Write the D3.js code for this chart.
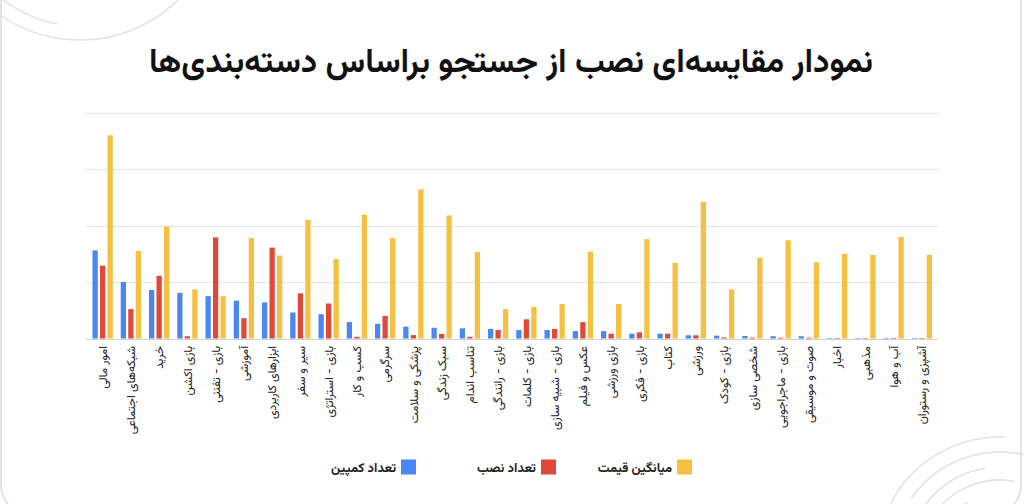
<!DOCTYPE html>
<html><head><meta charset="utf-8">
<script src="https://cdn.jsdelivr.net/npm/d3@7"></script>
<style>body{margin:0;background:#fff} svg{display:block}</style>
</head><body>
<svg id="c" width="1024" height="504"></svg>
<script>
const categories = ["امور مالی","شبکه‌های اجتماعی","خرید","بازی اکشن","بازی - تفننی","آموزشی","ابزارهای کاربردی","سیر و سفر","بازی - استراتژی","کسب و کار","سرگرمی","پزشکی و سلامت","سبک زندگی","تناسب اندام","بازی - رانندگی","بازی - کلمات","بازی - شبیه سازی","عکس و فیلم","بازی ورزشی","بازی - فکری","کتاب","ورزشی","بازی - کودک","شخصی سازی","بازی - ماجراجویی","صوت و موسیقی","اخبار","مذهبی","آب و هوا","آشپزی و رستوران"];
const seriesNames = ["تعداد کمپین","تعداد نصب","میانگین قیمت"];
const campaigns = [15.6,10.0,8.6,8.1,7.5,6.7,6.4,4.6,4.3,2.9,2.6,2.1,1.9,1.8,1.7,1.5,1.5,1.3,1.3,0.85,0.85,0.57,0.5,0.45,0.4,0.4,0.1,0.1,0.1,0.1];
const installs = [12.9,5.2,11.1,0.4,17.9,3.6,16.1,8.0,6.2,0.3,4.0,0.6,0.8,0.3,1.5,3.4,1.7,2.9,0.85,1.1,0.85,0.57,0.2,0.15,0.15,0.15,0.1,0.1,0.1,0.1];
const avgPrice = [36.0,15.5,19.8,8.7,7.5,17.8,14.7,21.0,14.1,21.9,17.8,26.4,21.8,15.3,5.2,5.6,6.1,15.4,6.1,17.6,13.4,24.2,8.7,14.3,17.4,13.5,15.0,14.8,18.0,14.8];
const yTicks = [0,10,20,30,40];
const colors = ["#4A87F2","#E0483A","#F6C142"];
const titleText = "نمودار مقایسه‌ای نصب از جستجو براساس دسته‌بندی‌ها";

const FONT = "Vazirmatn, 'Noto Sans Arabic', 'DejaVu Sans', sans-serif";
const svg = d3.select("#c").style("font-family", FONT);
const seriesData = [campaigns, installs, avgPrice];

// background card + decorative arcs
svg.append("rect").attr("x",1).attr("y",-30).attr("width",1020).attr("height",545).attr("rx",30)
  .attr("fill","#fff").attr("stroke","#e2e2e8").attr("stroke-width",2);
const deco = svg.append("g").attr("fill","none").attr("stroke","#e3e3e3").attr("stroke-width",1.6);
[[80,-100,140,0.55,2.75],[80,-100,126,1.75,2.6],[80,-100,112,0.35,0.9],[80,-100,98,0.2,0.6]].forEach(a=>{
  const p=d3.path(); p.arc(a[0],a[1],a[2],a[3],a[4]); deco.append("path").attr("d",p.toString());});
[[1000,560,123,3.55,4.75],[1000,560,108,3.75,5.0],[1000,560,93,3.3,4.55],[1000,560,80,3.6,4.9],[1000,560,66,3.3,4.2]].forEach(a=>{
  const p=d3.path(); p.arc(a[0],a[1],a[2],a[3],a[4]); deco.append("path").attr("d",p.toString());});

// title
svg.append("text").attr("x",511).attr("y",72).attr("text-anchor","middle")
  .attr("font-size",33).attr("font-weight","bold").attr("fill","#111").text(titleText);

// scales
const x0 = d3.scaleBand().domain(categories).range([88.5,936]);
const x1 = d3.scaleBand().domain(seriesNames).range([4, x0.bandwidth()-4]).paddingInner(0.3);
const y = d3.scaleLinear().domain([0,40]).range([338.5,112.7]);

// gridlines
svg.append("g").selectAll("line").data(yTicks).join("line")
  .attr("x1",86).attr("x2",938).attr("y1",d=>Math.round(y(d))+0.5).attr("y2",d=>Math.round(y(d))+0.5)
  .attr("stroke",d=>d===0?"#cfcfcf":"#e4e4e4").attr("stroke-width",1.2);

// bars
const groups = svg.append("g").selectAll("g").data(categories).join("g")
  .attr("transform",d=>`translate(${x0(d)},0)`);
groups.selectAll("rect").data((d,i)=>seriesNames.map((s,k)=>({s,k,v:seriesData[k][i]}))).join("rect")
  .attr("x",d=>x1(d.s)).attr("width",x1.bandwidth())
  .attr("y",d=>y(d.v)).attr("height",d=>y(0)-y(d.v)).attr("fill",d=>colors[d.k]);

// category labels
svg.append("g").selectAll("text").data(categories).join("text")
  .attr("transform",d=>`translate(${x0(d)+x0.bandwidth()/2},346) rotate(-90)`)
  .attr("text-anchor","end").attr("dy","0.35em").attr("font-size",12).attr("fill","#222").text(d=>d);

// legend
const legendX = [416,556,692];
const lg = svg.append("g").selectAll("g").data(seriesNames).join("g")
  .attr("transform",(d,i)=>`translate(${legendX[i]},467)`);
lg.append("rect").attr("x",-15).attr("y",-7.5).attr("width",15).attr("height",15).attr("fill",(d,i)=>colors[i]);
lg.append("text").attr("x",-20).attr("dy","0.35em").attr("text-anchor","end").attr("font-size",13)
  .attr("font-weight","bold").attr("fill","#222").text(d=>d);
</script>
</body></html>
